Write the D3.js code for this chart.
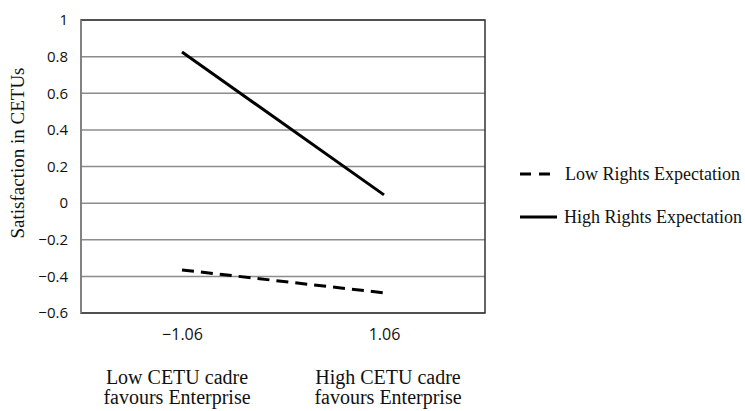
<!DOCTYPE html>
<html>
<head>
<meta charset="utf-8">
<script src="https://cdn.jsdelivr.net/npm/d3@7"></script>
<style>
  body { margin: 0; background: #fff; }
</style>
</head>
<body>
<div id="chart"></div>
<script>
const categories = ["\u22121.06", "1.06"];
const groupLabels = [["Low CETU cadre", "favours Enterprise"], ["High CETU cadre", "favours Enterprise"]];
const lowRights = [-0.365, -0.49];
const highRights = [0.825, 0.045];
const yTicks = [-0.6, -0.4, -0.2, 0, 0.2, 0.4, 0.6, 0.8, 1];
const seriesNames = ["Low Rights Expectation", "High Rights Expectation"];

const W = 745, H = 411;
const margin = { top: 20, right: 260, bottom: 98, left: 81 };
const width = W - margin.left - margin.right,
  height = H - margin.top - margin.bottom;

const svg = d3.select("#chart").append("svg")
  .attr("width", W).attr("height", H);
const g = svg.append("g")
  .attr("transform", "translate(" + margin.left + "," + margin.top + ")");

const x = d3.scalePoint().domain(categories).range([0, width]).padding(0.5);
const y = d3.scaleLinear().domain([-0.6, 1]).range([height, 0]);

// gridlines
g.append("g").selectAll("line").data(yTicks).enter().append("line")
  .attr("x1", 0).attr("x2", width)
  .attr("y1", d => y(d)).attr("y2", d => y(d))
  .attr("stroke", "#8c8c8c").attr("stroke-width", 1.5);

// plot frame
g.append("rect").attr("x", 0).attr("y", 0).attr("width", width).attr("height", height)
  .attr("fill", "none").attr("stroke", "#333").attr("stroke-width", 1.5);
g.append("line").attr("x1", 0).attr("x2", 0).attr("y1", 0).attr("y2", height)
  .attr("stroke", "#8c8c8c").attr("stroke-width", 1.5);

// y axis labels
const yAxis = d3.axisLeft(y).tickValues(yTicks).tickSize(0).tickPadding(13)
  .tickFormat(d => d === 0 ? "0" : d3.format("")(Math.round(d * 10) / 10).replace("-", "\u2212"));
g.append("g").call(yAxis)
  .call(s => s.select(".domain").remove())
  .selectAll("text")
  .attr("font-family", "'Open Sans', 'DejaVu Sans', sans-serif")
  .attr("font-size", 15).attr("fill", "#111");

// x axis labels
const xAxis = d3.axisBottom(x).tickSize(0).tickPadding(16);
g.append("g").attr("transform", "translate(0," + height + ")").call(xAxis)
  .call(s => s.select(".domain").remove())
  .selectAll("text")
  .attr("font-family", "'Open Sans', 'DejaVu Sans', sans-serif")
  .attr("font-size", 16).attr("fill", "#111");

// group labels
const gl = g.append("g").selectAll("text").data(groupLabels).enter().append("text")
  .attr("x", (d, i) => x(categories[i]) + (i === 0 ? -5 : 4))
  .attr("y", height + 71)
  .attr("text-anchor", "middle")
  .attr("font-family", "'Liberation Serif', 'Times New Roman', serif")
  .attr("font-size", 20).attr("fill", "#111");
gl.selectAll("tspan").data(d => d).enter().append("tspan")
  .attr("x", function () { return d3.select(this.parentNode).attr("x"); })
  .attr("dy", (d, i) => i === 0 ? 0 : 20)
  .text(d => d);

// lines
const line = d3.line().x((d, i) => x(categories[i])).y(d => y(d));
g.append("path").datum(lowRights).attr("d", line)
  .attr("fill", "none").attr("stroke", "#000").attr("stroke-width", 3)
  .attr("stroke-dasharray", "12,7");
g.append("path").datum(highRights).attr("d", line)
  .attr("fill", "none").attr("stroke", "#000").attr("stroke-width", 3);

// legend
const legend = svg.append("g").attr("transform", "translate(520,174)");
const items = legend.selectAll("g").data(seriesNames).enter().append("g")
  .attr("transform", (d, i) => "translate(0," + i * 43 + ")");
items.append("line").attr("x1", 0).attr("x2", d => d === seriesNames[0] ? 31 : 37)
  .attr("y1", 0).attr("y2", 0)
  .attr("stroke", "#000").attr("stroke-width", 3)
  .attr("stroke-dasharray", (d, i) => i === 0 ? "11,8" : null);
items.append("text").attr("x", (d, i) => i === 0 ? 45 : 44).attr("y", 6)
  .attr("font-family", "'Liberation Serif', 'Times New Roman', serif")
  .attr("font-size", 18).attr("fill", "#111")
  .text(d => d);

// y title
svg.append("text")
  .attr("transform", "translate(24,153) rotate(-90)")
  .attr("text-anchor", "middle")
  .attr("font-family", "'Liberation Serif', 'Times New Roman', serif")
  .attr("font-size", 19).attr("fill", "#111")
  .text("Satisfaction in CETUs");
</script>
</body>
</html>
